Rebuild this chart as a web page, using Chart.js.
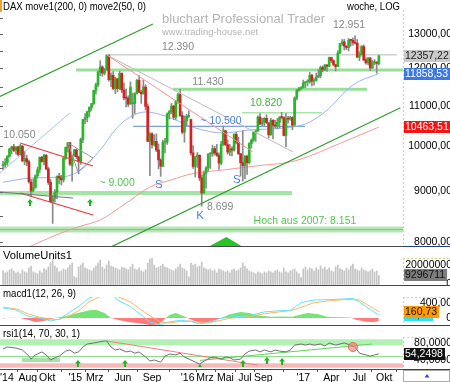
<!DOCTYPE html>
<html>
<head>
<meta charset="utf-8">
<script src="https://cdn.jsdelivr.net/npm/chart.js@4.4.1/dist/chart.umd.min.js"></script>
<style>
  html, body { margin: 0; padding: 0; background: #fff; }
  #wrap { position: relative; width: 450px; height: 382px; overflow: hidden; background: #fff; }
  #wrap canvas { position: absolute; left: 0; }
</style>
</head>
<body>
<div id="wrap">
  <canvas id="cPrice" width="450" height="247" style="top:0px"></canvas>
  <canvas id="cVol" width="450" height="39" style="top:247px"></canvas>
  <canvas id="cMacd" width="450" height="40" style="top:286px"></canvas>
  <canvas id="cRsi" width="450" height="56" style="top:326px"></canvas>
</div>
<script>
/* Wochenkerzen DAX, Mai 2014 .. Sep 2017 (Index = Woche) */
const opens = [9560,9585,9630,9770,9940,9990,9900,9990,9830,10010,9670,9720,9650,9200,9020,9090,9340,9480,9750,9650,9800,9490,9200,8800,8860,8990,9330,9290,9250,9730,9980,10090,9560,9800,9920,
  9760,9650,10170,10650,10700,10850,10960,11050,11400,11550,11900,12040,11870,11970,12375,11690,11810,11450,11710,11450,11860,11410,11200,11195,11040,11050,11060,11320,11670,11350,11310,11490,10985,10120,10300,10040,10120,9920,9690,9550,10100,10100,10790,10850,10990,10710,11120,11290,10750,10340,10610,10730,
  10650,9850,9545,9765,9800,9290,8970,9390,9510,9825,9830,9950,9850,9795,9620,10050,10375,10040,9870,9950,9915,10290,10100,9830,9630,9560,9775,9630,10070,10150,10340,10370,10710,10540,10590,10680,10570,10275,10630,10510,10490,10580,10710,10700,10260,10670,10660,10700,10510,11200,11400,11450,
  11480,11600,11630,11630,11810,11650,11670,11760,11800,12030,11960,12100,12060,12310,12225,12110,12050,12440,12720,12770,12640,12600,12820,12815,12750,12730,12325,12390,12630,12240,12160,12300,12015,12165,12170,12140];
const highs = [9660,9720,9790,9960,10010,10050,10000,10010,10050,10020,9880,9800,9690,9260,9270,9360,9530,9760,9770,9820,9810,9530,9260,8920,9040,9340,9390,9350,9750,9990,10090,10090,9800,9930,9950,
  9780,10200,10650,10800,10860,10970,11060,11410,11600,11930,12220,12080,12000,12390,12390,11880,11910,11760,11730,11920,11880,11600,11440,11260,11630,11330,11340,11700,11800,11400,11670,11550,11050,10330,10330,10280,10300,10060,9720,10150,10190,10820,10880,11060,11010,11130,11320,11430,10850,10740,10780,10870,
  10660,10020,9770,9860,9800,9360,9440,9540,9830,9860,10030,10000,10050,9850,10120,10490,10390,10150,10050,10000,10300,10340,10220,9840,10370,9790,9800,10090,10180,10340,10380,10740,10800,10680,10700,10770,10570,10680,10650,10630,10680,10720,10830,10720,10800,10730,10730,10720,11230,11430,11480,11500,
  11680,11640,11690,11890,11840,11720,11870,11960,12070,12070,12110,12100,12320,12320,12240,12110,12510,12720,12840,12840,12660,12870,12830,12890,12951,12840,12480,12660,12680,12300,12300,12300,12230,12250,12200,12380];
const lows = [9480,9520,9570,9750,9830,9880,9820,9780,9810,9650,9580,9560,9180,8900,8990,9070,9290,9410,9640,9580,9470,9150,8780,8355,8780,8850,9160,9140,9200,9700,9870,9570,9220,9760,9720,
  9380,9590,10090,10550,10590,10720,10880,11030,11300,11500,11800,11780,11820,11950,11650,11500,11420,11310,11360,11420,11340,11150,10970,10980,11040,10680,10800,11300,11340,11060,11300,10890,10110,9340,9960,10010,9880,9490,9325,9540,9850,10050,10660,10800,10650,10650,11060,10720,10300,10100,10500,10690,
  9800,9500,9310,9520,9230,8699,8960,9070,9440,9500,9770,9800,9770,9480,9580,10020,10020,9820,9790,9780,9890,10060,9820,9330,9225,9270,9370,9600,9960,10110,10120,10360,10520,10500,10480,10550,10200,10270,10180,10440,10420,10440,10660,10250,9990,10560,10630,10400,10510,11150,11370,11410,
  11460,11470,11520,11590,11520,11540,11650,11750,11740,11900,11940,11920,12040,12160,12070,11930,12050,12420,12660,12530,12540,12500,12640,12670,12700,12300,12220,12380,12220,12120,12100,11940,12000,12100,11868,12100];
const closes = [9580,9630,9770,9940,9990,9910,9990,9815,10010,9670,9720,9645,9210,9010,9090,9340,9470,9750,9650,9800,9490,9195,8790,8850,8990,9325,9290,9250,9730,9980,10090,9595,9790,9925,9765,
  9650,10170,10650,10695,10850,10960,11050,11400,11550,11900,12040,11870,11970,12375,11690,11810,11450,11710,11450,11860,11410,11200,11195,11040,11490,11060,11320,11670,11350,11310,11490,10985,10120,10300,10040,10120,9920,9690,9550,10100,10100,10790,10850,10990,10710,11120,11290,10750,10340,10610,10730,10745,
  9850,9545,9765,9800,9290,8970,9390,9510,9825,9830,9950,9850,9795,9620,10050,10375,10040,9870,9950,9915,10290,10100,9830,9630,9560,9775,9630,10070,10150,10340,10370,10710,10540,10590,10680,10570,10275,10630,10510,10490,10580,10710,10700,10260,10670,10660,10700,10510,11200,11400,11450,11480,
  11600,11630,11630,11810,11650,11670,11760,11800,12030,11960,12100,12060,12310,12225,12110,12050,12440,12720,12770,12640,12600,12820,12815,12750,12730,12325,12390,12630,12240,12160,12300,12015,12165,12170,12140,12357.22];
/* Volumen in Mio. */
const volumes = [14,12,13,15,16,14,12,13,11,15,13,12,17,19,13,12,11,14,12,16,15,18,22,26,19,17,13,14,16,15,17,20,22,8,7,
  18,20,22,17,16,15,14,17,19,22,25,18,16,20,24,19,18,17,16,15,18,17,16,15,18,21,16,15,17,14,13,15,22,26,27,20,17,18,19,21,18,17,16,15,14,16,18,21,17,16,14,8,
  22,20,21,18,19,23,17,16,15,16,14,15,12,16,15,14,13,14,12,15,16,14,15,17,22,19,16,14,13,12,11,13,12,11,13,12,14,13,12,14,15,13,12,17,13,12,14,15,16,13,11,7,
  16,18,15,17,16,14,17,15,19,16,18,15,17,14,13,18,20,16,15,14,17,15,19,21,16,15,14,17,15,14,13,14,16,13,14,9.296711];

/* gleitende Durchschnitte [woche, wert] */
const ma200 = [[0,7720],[13,7926],[25,8140],[35,8290],[45,8423],[57,8760],[68,9097],[78,9250],[87,9377],[103,9472],[118,9560],[133,9645],[142,9780],[151,9965],[162,10200],[174,10463.51]];
const ma50 = [[0,9200],[13,9290],[27,9310],[36,9466],[45,9920],[54,10515],[66,10840],[75,10740],[89,10442],[102,10320],[114,10393],[130,10442],[140,10540],[149,10840],[162,11545],[174,11858.53]];

/* Trendlinien und Marken im Kurschart [woche, kurs] */
const greenUpper = [[-1.4,11239],[69.4,13314]];
const greenLower = [[48,7870],[184,10946]];
const redChannelTop = [[7.9,10082],[41.7,9555]];
const redChannelBottom = [[7.9,8971],[41.7,8521]];
const redDown = [[48.1,12383],[115.7,9872]];
const greyDown = [[48.1,12383],[134.3,9872]];
const greyTriangle = [[30.1,10082],[41.7,9735],[34.7,9422],[30.1,10082]];
const greyFlat = [[-1.4,8991],[32.4,8866]];
const blueDiag = [[-1.4,9400],[31,10814]];
const level12390 = [[48.1,12390],[182.4,12390]];
const level12000 = [[33.8,11960],[185.2,11960]];
const level11430 = [[78.7,11430],[168.5,11430]];
const level10820 = [[110.6,10820],[147.7,10820]];
const level10500 = [[60.2,10480],[139.8,10480]];
const level9000 = [[-1.4,8970],[133.8,8970]];
const level2007 = [[-1.4,8236],[185.2,8236]];

/* MACD [woche, wert] */
const macdLine = [[0,263],[6,210],[12,40],[17,0],[22,-79],[26,-30],[31,158],[36,342],[40,526],[45,620],[50,620],[53,474],[59,300],[63,130],[68,-107],[73,-180],[77,-100],[82,-60],[87,-90],[91,-150],[96,-120],[100,-20],[105,30],[110,40],[114,60],[121,160],[128,190],[133,200],[138,400],[144,470],[151,480],[158,500],[162,510],[165,420],[170,220],[174,76.66]];
const macdSignal = [[0,280],[6,240],[12,100],[17,20],[22,-30],[26,-40],[31,60],[36,230],[40,430],[45,560],[50,620],[53,560],[59,420],[63,250],[68,60],[73,-100],[77,-130],[82,-90],[87,-80],[91,-110],[96,-120],[100,-70],[105,-10],[110,20],[114,40],[121,110],[128,160],[133,190],[138,280],[144,400],[151,450],[158,480],[162,490],[165,470],[170,300],[174,160.73]];
const macdHist = [[0,-10],[3,5],[8,0],[11,-40],[15,-105],[19,-80],[23,-10],[26,20],[31,80],[36,150],[40,200],[43,213],[47,130],[50,0],[54,-60],[59,-110],[63,-140],[68,-185],[72,-170],[75,-20],[77,80],[80,130],[84,40],[87,-40],[90,-110],[93,-130],[97,-80],[101,0],[105,100],[110,160],[114,130],[119,60],[124,30],[129,40],[134,30],[138,90],[141,130],[146,100],[150,30],[156,20],[161,10],[163,-40],[168,-100],[171,-107],[174,-85]];

/* RSI [woche, wert] */
const rsiLine = [[0,66],[2,70.6],[6,68],[9,63.5],[12,49],[13,42],[15,52],[18,59],[20,52],[22,40],[24,45],[26,49],[29,61],[31,63.5],[33,56],[35,59],[37,70.6],[39,77.6],[42,80],[44,82],[47,84.7],[48,84.7],[50,70.6],[52,63.5],[54,66],[57,59],[59,61],[61,56],[63,59],[66,47],[68,37.6],[70,40],[73,35],[75,49],[77,54],[80,52],[82,56],[84,47],[87,40],[89,35],[91,30.6],[94,40],[96,45],[98,47],[101,42],[103,47],[105,45],[107,40],[110,42],[112,54],[114,61],[117,63.5],[119,59],[121,63.5],[124,59],[126,63.5],[128,61],[131,59],[133,63.5],[135,75],[138,77.6],[140,75],[142,77.6],[144,75],[147,77.6],[149,73],[151,80],[154,75],[156,77.6],[158,80],[161,75],[163,70.6],[165,56],[168,52],[170,49],[172,52],[174,54.2498]];
const rsiRedTrend = [[48.1,84.7],[118,28]];
const rsiGreenTrend = [[91.2,39],[170.8,77.6]];
const rsiMidLine = [[-1.4,47.8],[185.2,47.8]];

/* Zeitachse */
const tickWeeks = [1.8, 11.5, 20.5, 33.5, 42.5, 55.5, 69, 85.5, 93.5, 103, 112, 120.5, 139, 152, 165, 176.5];
const tickLabels = ["'14", 'Aug', 'Okt', "'15", 'Mrz', 'Jun', 'Sep', "'16", 'Mrz', 'Mai', 'Jul', 'Sep', "'17", 'Apr', 'Jul', 'Okt'];
const priceTicks = [8000, 9000, 10000, 11000, 12000, 13000];

const FONT = "'Liberation Sans', Arial, Helvetica, sans-serif";
const X_MIN = -1.39, X_MAX = 185.18;
const RIGHT_PAD = 47;
const last = a => a[a.length - 1];

function fmtComma(v, d) { return v.toFixed(d).replace('.', ','); }

function lineSet(list, color, width, extra) {
  return Object.assign({
    type: 'line',
    data: list.map(p => ({ x: p[0], y: p[1] })),
    borderColor: color, borderWidth: width,
    pointRadius: 0, fill: false, tension: 0, order: 1
  }, extra || {});
}

/* Text mit fester Breite (horizontal gestaucht) */
function fitText(ctx, text, x, y, width) {
  const w = ctx.measureText(text).width;
  ctx.save();
  ctx.translate(x, y);
  ctx.scale(width / w, 1);
  ctx.fillText(text, 0, 0);
  ctx.restore();
}

function upArrow(ctx, cx, tipY, h, color) {
  ctx.fillStyle = color;
  ctx.beginPath();
  ctx.moveTo(cx, tipY);
  ctx.lineTo(cx + 3, tipY + 3.5);
  ctx.lineTo(cx - 3, tipY + 3.5);
  ctx.closePath();
  ctx.fill();
  ctx.fillRect(cx - 1, tipY + 3, 2, h - 3);
}

/*
 * Plugin pro Panel: Baender, Marken, Texte, rechte Achsbeschriftung, Wertkaesten, Titel.
 */
function makePanel(cfg) {
  return {
    id: 'panel',
    beforeDatasetsDraw(chart) {
      const { ctx, chartArea: a, scales: { x, y } } = chart;
      ctx.save();
      ctx.beginPath();
      ctx.rect(a.left, a.top, a.right - a.left, a.bottom - a.top);
      ctx.clip();
      (cfg.rects || []).forEach(r => {
        const x1 = x.getPixelForValue(r.w1), x2 = x.getPixelForValue(r.w2);
        const y1 = y.getPixelForValue(r.v1), y2 = y.getPixelForValue(r.v2);
        ctx.fillStyle = r.color;
        ctx.fillRect(x1, Math.min(y1, y2), x2 - x1, Math.abs(y2 - y1));
      });
      ctx.restore();
    },
    afterDatasetsDraw(chart) {
      const { ctx, scales: { x, y } } = chart;
      ctx.save();
      (cfg.marks || []).forEach(m => {
        if (m.kind === 'arrow') {
          upArrow(ctx, x.getPixelForValue(m.w), y.getPixelForValue(m.v), m.h || 7, '#1db51d');
        } else if (m.kind === 'circle') {
          ctx.fillStyle = 'rgba(240,130,110,0.65)';
          ctx.strokeStyle = '#e0705a';
          ctx.beginPath();
          ctx.arc(x.getPixelForValue(m.w), y.getPixelForValue(m.v), m.r, 0, Math.PI * 2);
          ctx.fill();
          ctx.stroke();
        } else if (m.kind === 'poly') {
          ctx.fillStyle = m.color;
          ctx.beginPath();
          m.pts.forEach((p, i) => {
            const px = x.getPixelForValue(p[0]), py = y.getPixelForValue(p[1]);
            if (i === 0) ctx.moveTo(px, py); else ctx.lineTo(px, py);
          });
          ctx.closePath();
          ctx.fill();
        }
      });
      ctx.textBaseline = 'middle';
      (cfg.texts || []).forEach(t => {
        ctx.font = (t.size || 10.5) + 'px ' + FONT;
        ctx.fillStyle = t.color;
        ctx.textAlign = 'center';
        ctx.fillText(t.text, x.getPixelForValue(t.w), y.getPixelForValue(t.v));
      });
      ctx.restore();
    },
    afterDraw(chart) {
      const { ctx, chartArea: a, scales: { y } } = chart;
      const W = chart.width;
      ctx.save();
      ctx.strokeStyle = '#e4cf8e';
      ctx.lineWidth = 1;
      ctx.setLineDash([2, 2]);
      ctx.beginPath();
      ctx.moveTo(a.right + 0.5, cfg.frameTop != null ? cfg.frameTop : a.top);
      ctx.lineTo(a.right + 0.5, a.bottom);
      if (cfg.frameLine) {
        ctx.moveTo(a.right, a.top + 0.5);
        ctx.lineTo(W, a.top + 0.5);
      }
      ctx.stroke();
      ctx.setLineDash([]);

      ctx.font = '10.5px ' + FONT;
      ctx.fillStyle = '#000';
      ctx.textAlign = 'right';
      ctx.textBaseline = 'middle';
      cfg.ticks.forEach(t => ctx.fillText(cfg.fmt(t), 452, y.getPixelForValue(t)));

      ctx.textAlign = 'left';
      cfg.boxes.forEach(b => {
        const py = Math.round(y.getPixelForValue(b.value));
        const tw = ctx.measureText(b.text).width;
        ctx.fillStyle = b.bg;
        ctx.fillRect(a.right + 1, py - 6, tw + 3, 12);
        ctx.fillStyle = b.fg;
        ctx.fillText(b.text, a.right + 2, py + 0.5);
      });

      if (cfg.sepY != null) {
        ctx.fillStyle = '#4a4a4a';
        ctx.fillRect(0, cfg.sepY, a.right, 1);
        ctx.fillStyle = '#203c8c';
        ctx.fillRect(a.right, cfg.sepY, W - a.right, 1);
      }

      ctx.fillStyle = '#000';
      ctx.font = '11px ' + FONT;
      ctx.textAlign = 'left';
      fitText(ctx, cfg.title, 3, cfg.titleY, cfg.titleW);
      if (cfg.extra) cfg.extra(ctx, chart);
      ctx.restore();
    }
  };
}

function hiddenX() {
  return { type: 'linear', display: false, min: X_MIN, max: X_MAX, bounds: 'data', offset: false };
}

function makeChart(id, datasets, yOpts, panel, padTop, xOpts) {
  return new Chart(document.getElementById(id), {
    type: 'bar',
    data: { datasets },
    options: {
      responsive: false,
      animation: false,
      devicePixelRatio: 1,
      events: [],
      layout: { padding: { left: 0, right: RIGHT_PAD, top: padTop, bottom: 0 } },
      plugins: { legend: { display: false }, tooltip: { enabled: false } },
      scales: {
        x: xOpts || hiddenX(),
        y: Object.assign({ display: false, bounds: 'data' }, yOpts)
      }
    },
    plugins: [makePanel(panel)]
  });
}

/* ---------- Kurschart ---------- */
makeChart('cPrice', [
  { type: 'bar', data: closes.map((c, i) => ({ x: i, y: [lows[i], highs[i]] })),
    backgroundColor: '#8a8a8a', barThickness: 1, grouped: false, order: 4 },
  { type: 'bar', data: closes.map((c, i) => ({ x: i, y: [opens[i], c] })),
    backgroundColor: closes.map((c, i) => c >= opens[i] ? '#25b825' : '#d91e1e'),
    barThickness: 2, minBarLength: 1, grouped: false, order: 3 },
  lineSet(level2007, '#b4e6b4', 6, { order: 9 }),
  lineSet(level2007, '#8dbd8d', 1, { order: 8 }),
  lineSet(level9000, '#a4e4a4', 4, { order: 9 }),
  lineSet(level12000, '#98e098', 3, { order: 9 }),
  lineSet(level11430, '#98e098', 3, { order: 9 }),
  lineSet(level10820, '#a6e6a6', 1.5, { order: 9 }),
  lineSet(level12390, '#d0d0d0', 1.5, { order: 9 }),
  lineSet(level10500, '#7c9ee6', 1.2, { order: 9 }),
  lineSet(ma200, '#f29a9a', 1, { cubicInterpolationMode: 'monotone', order: 6 }),
  lineSet(ma50, '#98b4f0', 1, { cubicInterpolationMode: 'monotone', order: 6 }),
  lineSet(blueDiag, '#abc2f0', 1, { order: 6 }),
  lineSet(greyDown, '#bbbbbb', 1),
  lineSet(greyTriangle, '#999999', 1),
  lineSet(greyFlat, '#777777', 1),
  lineSet(redDown, '#f29393', 1),
  lineSet(redChannelTop, '#ee3a3a', 1.2),
  lineSet(redChannelBottom, '#ee3a3a', 1.2),
  lineSet(greenUpper, '#2f9e2f', 1.2),
  lineSet(greenLower, '#2f9e2f', 1.2)
], { type: 'logarithmic', min: 7907, max: 14081 }, {
  title: 'DAX move1(200, 0) move2(50, 0)', titleY: 7, titleW: 143,
  frameTop: 10, sepY: 246,
  ticks: priceTicks, fmt: v => fmtComma(v, 2),
  boxes: [
    { value: last(closes), text: fmtComma(last(closes), 2), bg: '#cacaca', fg: '#222' },
    { value: last(ma50)[1], text: fmtComma(last(ma50)[1], 2), bg: '#3b78e7', fg: '#fff' },
    { value: last(ma200)[1], text: fmtComma(last(ma200)[1], 2), bg: '#f01616', fg: '#fff' }
  ],
  marks: [
    { kind: 'arrow', w: 12.5, v: 8846 },
    { kind: 'arrow', w: 40.3, v: 8846 },
    { kind: 'poly', color: '#27c427', pts: [[94.9, 7907], [103.4, 8094], [111.1, 7907]] }
  ],
  texts: [
    { w: 81, v: 12618, text: '12.390', color: '#888' },
    { w: 94.9, v: 11627, text: '11.430', color: '#888' },
    { w: 121.8, v: 11070, text: '10.820', color: '#3db33d' },
    { w: 100.9, v: 10614, text: '~ 10.500', color: '#4a7fe6' },
    { w: 52.8, v: 9182, text: '~ 9.000', color: '#4fc94f' },
    { w: 7.6, v: 10272, text: '10.050', color: '#888' },
    { w: 72.2, v: 9140, text: 'S', color: '#4a7fe6', size: 11.5 },
    { w: 91.2, v: 8501, text: 'K', color: '#4a7fe6', size: 11.5 },
    { w: 100.5, v: 8682, text: '8.699', color: '#888' },
    { w: 108.3, v: 9247, text: 'S', color: '#4a7fe6', size: 11.5 },
    { w: 160.2, v: 13283, text: '12.951', color: '#888' },
    { w: 139.8, v: 8402, text: 'Hoch aus 2007: 8.151', color: '#4fc94f' }
  ],
  extra(ctx, chart) {
    const y = chart.scales.y;
    ctx.fillStyle = '#f0a030';
    ctx.fillRect(0, 0, 2, 12);
    ctx.fillStyle = '#666';
    for (let v = 8000; v <= 13500; v += 500) ctx.fillRect(0, Math.round(y.getPixelForValue(v)), 3, 1);
    ctx.textBaseline = 'middle';
    ctx.fillStyle = '#b4b4b4';
    ctx.font = '13px ' + FONT;
    fitText(ctx, 'bluchart Professional Trader', 162, 19, 163);
    ctx.font = '9.5px ' + FONT;
    fitText(ctx, 'www.trading-house.net', 162, 32, 96);
    ctx.fillStyle = '#000';
    ctx.font = '10px ' + FONT;
    fitText(ctx, 'woche, LOG', 347, 7, 53);
  }
}, 0);

/* ---------- Volumen ---------- */
makeChart('cVol', [
  { type: 'bar', data: volumes.map((v, i) => ({ x: i, y: v })),
    backgroundColor: '#c4c4c4', barThickness: 1, grouped: false }
], { type: 'linear', min: -1.54, max: 27.2 }, {
  title: 'VolumeUnits1', titleY: 9, titleW: 69, frameLine: true, sepY: 38,
  ticks: [0, 20], fmt: v => v === 0 ? '0' : String(v * 1e6),
  boxes: [{ value: last(volumes), text: String(Math.round(last(volumes) * 1e6)), bg: '#7c7c7c', fg: '#111' }]
}, 11);

/* ---------- MACD ---------- */
makeChart('cMacd', [
  lineSet(macdHist, 'rgba(0,0,0,0)', 0, { fill: { target: 'origin', above: '#74e474', below: '#ff7a7a' }, order: 3 }),
  lineSet(macdSignal, '#ffb566', 1, { order: 2 }),
  lineSet(macdLine, '#5ee6f5', 1, { order: 1 })
], { type: 'linear', min: -209, max: 549 }, {
  title: 'macd1(12, 26, 9)', titleY: 8, titleW: 73, frameLine: true, sepY: 39,
  ticks: [0, 400], fmt: v => v === 0 ? '0' : fmtComma(v, 2),
  boxes: [
    { value: last(macdLine)[1], text: fmtComma(last(macdLine)[1], 2), bg: '#33e0f0', fg: '#111' },
    { value: last(macdSignal)[1], text: fmtComma(last(macdSignal)[1], 2), bg: '#ff9a00', fg: '#111' }
  ]
}, 11);

/* ---------- RSI + Zeitachse ---------- */
makeChart('cRsi', [
  lineSet(rsiMidLine, '#7ad67a', 1, { order: 5 }),
  lineSet(rsiRedTrend, '#f08080', 1, { order: 3 }),
  lineSet(rsiGreenTrend, '#5fd35f', 1, { order: 3 }),
  lineSet(rsiLine, '#707070', 1, { order: 1 })
], { type: 'linear', min: 18.8, max: 94.1 }, {
  title: 'rsi1(14, 70, 30, 1)', titleY: 8, titleW: 77, frameLine: true, sepY: 43,
  ticks: [40, 80], fmt: v => fmtComma(v, 4),
  boxes: [{ value: last(rsiLine)[1], text: fmtComma(last(rsiLine)[1], 4), bg: '#111', fg: '#fff' }],
  rects: [
    { w1: X_MIN, w2: X_MAX, v1: 74.6, v2: 88.7, color: '#b3f0b3' },
    { w1: X_MIN, w2: X_MAX, v1: 21.9, v2: 32.2, color: '#f7b8b8' },
    { w1: 8.8, w2: 26.4, v1: 35.3, v2: 44.7, color: '#a8e0a8' }
  ],
  marks: [
    { kind: 'arrow', w: 34.7, v: 40 },
    { kind: 'arrow', w: 56.5, v: 40 },
    { kind: 'arrow', w: 111.1, v: 40 },
    { kind: 'arrow', w: 122.2, v: 47 },
    { kind: 'arrow', w: 129.2, v: 44.7 },
    { kind: 'poly', color: '#1db51d', pts: [[90.3, 23.5], [91.2, 30.6], [92.1, 23.5]] },
    { kind: 'circle', w: 162, v: 70.6, r: 4.5 }
  ],
  extra(ctx, chart) {
    ctx.strokeStyle = '#aaa';
    ctx.strokeRect(403.5, 44.5, 46, 11);
    ctx.fillStyle = '#2a4fd0';
    ctx.beginPath();
    ctx.moveTo(427, 48);
    ctx.lineTo(429.5, 51.5);
    ctx.lineTo(424.5, 51.5);
    ctx.closePath();
    ctx.fill();
  }
}, 11, {
  type: 'linear', min: X_MIN, max: X_MAX, bounds: 'data', offset: false,
  afterBuildTicks: s => { s.ticks = tickWeeks.map(v => ({ value: v })); },
  afterFit: s => { s.height = 13; s.paddingLeft = 0; s.paddingRight = 0; },
  ticks: { autoSkip: false, maxRotation: 0, minRotation: 0, padding: 0, color: '#000',
    font: { family: FONT, size: 10.5 }, callback: (v, i) => tickLabels[i] },
  grid: { drawOnChartArea: false, tickLength: 3, color: '#555' },
  border: { display: true, color: '#444' }
});
</script>
</body>
</html>
